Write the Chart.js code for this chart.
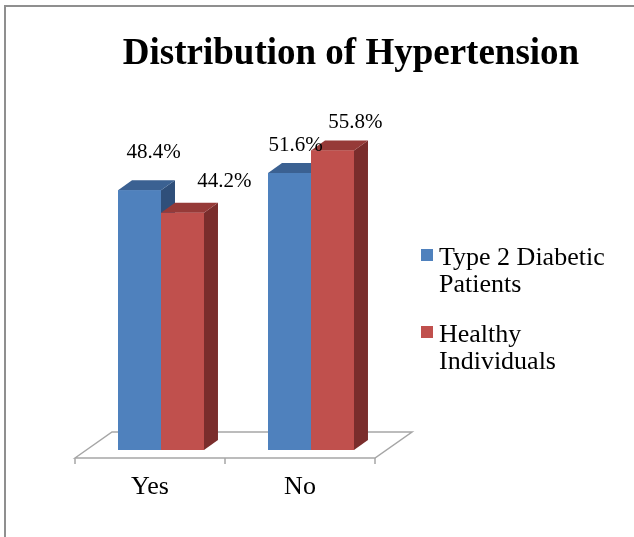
<!DOCTYPE html>
<html>
<head>
<meta charset="utf-8">
<title>Distribution of Hypertension</title>
<script src="https://cdn.jsdelivr.net/npm/chart.js@4.4.1/dist/chart.umd.min.js"></script>
<style>
    html, body { margin: 0; padding: 0; background: #ffffff; }
    #wrap { width: 634px; height: 537px; }
</style>
</head>
<body>
<div id="wrap"><canvas id="hyperChart" width="634" height="537"></canvas></div>
<script>
// values
const chartTitle = 'Distribution of Hypertension';
const categories = ['Yes', 'No'];
const seriesNames = ['Type 2 Diabetic Patients', 'Healthy Individuals'];
const diabeticValues = [48.4, 51.6];
const healthyValues = [44.2, 55.8];

const serif = "'Liberation Serif', 'Times New Roman', serif";

// colours of the three visible faces of each bar
const faceColors = [
    { front: '#4F81BD', top: '#3B6192', side: '#2F4F7A' },
    { front: '#C0504D', top: '#963A38', side: '#7A2D2C' }
];

// how far the bars go back into the picture
const depth = { dx: 14, dy: -10 };

// where each percentage label sits, relative to the top centre of its bar
const labelShift = [
    [[14, -38], [6, -28]],
    [[42, -31], [23, -28]]
];

function wrapText(ctx, text, maxWidth) {
    const words = text.split(' ');
    const lines = [];
    let line = '';
    words.forEach(word => {
        const test = line ? line + ' ' + word : word;
        if (line && ctx.measureText(test).width > maxWidth) {
            lines.push(line);
            line = word;
        } else {
            line = test;
        }
    });
    if (line) lines.push(line);
    return lines;
}

const bars3d = {
    id: 'bars3d',
    beforeDraw(chart) {
        const ctx = chart.ctx;
        ctx.save();
        ctx.fillStyle = '#ffffff';
        ctx.fillRect(0, 0, chart.width, chart.height);
        // frame of the picture, only top and left show
        ctx.strokeStyle = '#8f8f8f';
        ctx.lineWidth = 2;
        ctx.beginPath();
        ctx.moveTo(chart.width, 6);
        ctx.lineTo(5, 6);
        ctx.lineTo(5, chart.height);
        ctx.stroke();
        ctx.restore();
    },
    beforeDatasetsDraw(chart) {
        // the floor the bars stand on
        const ctx = chart.ctx;
        const x = chart.scales.x;
        const base = chart.scales.y.getPixelForValue(0);
        const fy = base + 8, by = base - 18;
        const fl = x.left - 11, fr = x.right - 11;
        const bl = x.left + 26, br = x.right + 26;
        ctx.save();
        ctx.fillStyle = '#ffffff';
        ctx.strokeStyle = '#a6a6a6';
        ctx.lineWidth = 1.5;
        ctx.beginPath();
        ctx.moveTo(fl, fy);
        ctx.lineTo(bl, by);
        ctx.lineTo(br, by);
        ctx.lineTo(fr, fy);
        ctx.closePath();
        ctx.fill();
        ctx.stroke();
        // ticks between categories
        const step = (fr - fl) / categories.length;
        ctx.beginPath();
        for (let i = 0; i <= categories.length; i++) {
            ctx.moveTo(fl + step * i, fy);
            ctx.lineTo(fl + step * i, fy + 6);
        }
        ctx.stroke();
        ctx.restore();
    },
    afterDatasetsDraw(chart) {
        const ctx = chart.ctx;
        const metas = chart.data.datasets.map((ds, d) => chart.getDatasetMeta(d));
        ctx.save();
        categories.forEach((cat, i) => {
            metas.forEach((meta, d) => {
                const bar = meta.data[i].getProps(['x', 'y', 'base', 'width'], true);
                const c = faceColors[d];
                const left = bar.x - bar.width / 2;
                const right = bar.x + bar.width / 2;

                ctx.fillStyle = c.side;
                ctx.beginPath();
                ctx.moveTo(right, bar.y);
                ctx.lineTo(right + depth.dx, bar.y + depth.dy);
                ctx.lineTo(right + depth.dx, bar.base + depth.dy);
                ctx.lineTo(right, bar.base);
                ctx.closePath();
                ctx.fill();

                ctx.fillStyle = c.top;
                ctx.beginPath();
                ctx.moveTo(left, bar.y);
                ctx.lineTo(left + depth.dx, bar.y + depth.dy);
                ctx.lineTo(right + depth.dx, bar.y + depth.dy);
                ctx.lineTo(right, bar.y);
                ctx.closePath();
                ctx.fill();

                ctx.fillStyle = c.front;
                ctx.fillRect(left, bar.y, bar.width, bar.base - bar.y);
            });
        });

        // percentage labels
        ctx.font = '21px ' + serif;
        ctx.fillStyle = '#000000';
        ctx.textAlign = 'center';
        ctx.textBaseline = 'middle';
        metas.forEach((meta, d) => {
            meta.data.forEach((el, i) => {
                const v = chart.data.datasets[d].data[i];
                const s = labelShift[d][i];
                ctx.fillText(v.toFixed(1) + '%', el.x + s[0], el.y + s[1]);
            });
        });
        ctx.restore();
    },
    afterDraw(chart) {
        const ctx = chart.ctx;
        ctx.save();
        ctx.fillStyle = '#000000';
        ctx.textAlign = 'center';
        ctx.textBaseline = 'alphabetic';
        ctx.font = 'bold 37px ' + serif;
        ctx.fillText(chartTitle, 351, 64);

        // legend on the right
        ctx.textAlign = 'left';
        ctx.font = '26px ' + serif;
        let y = 265;
        chart.data.datasets.forEach((ds, d) => {
            const lines = wrapText(ctx, ds.label, 180);
            ctx.fillStyle = faceColors[d].front;
            ctx.fillRect(421, y - 16, 12, 12);
            ctx.fillStyle = '#000000';
            lines.forEach((line, k) => ctx.fillText(line, 439, y + k * 26.5));
            y += lines.length * 26.5 + 24;
        });
        ctx.restore();
    }
};

new Chart(document.getElementById('hyperChart'), {
    type: 'bar',
    data: {
        labels: categories,
        datasets: [{
            label: seriesNames[0],
            data: diabeticValues,
            backgroundColor: faceColors[0].front
        },
        {
            label: seriesNames[1],
            data: healthyValues,
            backgroundColor: faceColors[1].front
        }]
    },
    options: {
        responsive: false,
        animation: false,
        devicePixelRatio: 1,
        layout: {
            padding: { left: 86, right: 248, top: 128, bottom: 0 }
        },
        datasets: {
            bar: { categoryPercentage: 0.573, barPercentage: 1 }
        },
        scales: {
            x: {
                grid: { display: false, drawTicks: false },
                border: { display: false },
                ticks: {
                    color: '#000000',
                    font: { family: serif, size: 26 },
                    padding: 22,
                    labelOffset: -11
                },
                afterFit: scale => { scale.height = 87; }
            },
            y: {
                display: false,
                min: 0,
                max: 60
            }
        },
        plugins: {
            legend: { display: false },
            tooltip: { enabled: false },
            title: { display: false }
        }
    },
    plugins: [bars3d]
});
</script>
</body>
</html>
